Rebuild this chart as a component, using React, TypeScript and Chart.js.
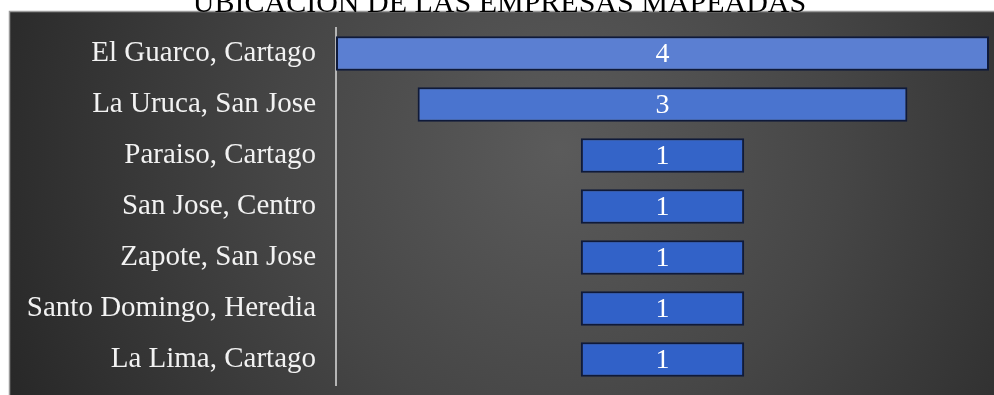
import React, { useEffect, useRef } from "react";
import { Chart, registerables } from "chart.js";

Chart.register(...registerables);

const TITLE = "UBICACIÓN DE LAS EMPRESAS MAPEADAS";
const categories = [
  "El Guarco, Cartago",
  "La Uruca, San Jose",
  "Paraiso, Cartago",
  "San Jose, Centro",
  "Zapote, San Jose",
  "Santo Domingo, Heredia",
  "La Lima, Cartago",
];
const values = [4, 3, 1, 1, 1, 1, 1];
const barColors = ["#5b7fd2", "#4a74cf", "#3464c8", "#3363c8", "#3262c8", "#3161c8", "#3161c8"];

const OFFSET = 17; // canvas is shifted up so the title is clipped like the reference
const W = 994;
const H = 395 + OFFSET;

const backgroundPlugin = {
  id: "bgBox",
  beforeDraw(chart: any) {
    const { ctx, width, height } = chart;
    ctx.save();
    ctx.fillStyle = "#ffffff";
    ctx.fillRect(0, 0, width, height);
    const x0 = 9, y0 = 11 + OFFSET;
    const g = ctx.createRadialGradient(560, 150 + OFFSET, 0, 560, 150 + OFFSET, 620);
    g.addColorStop(0, "#5b5b5b");
    g.addColorStop(0.45, "#464646");
    g.addColorStop(1, "#262626");
    ctx.fillStyle = g;
    ctx.fillRect(x0, y0, width - x0, height - y0);
    ctx.strokeStyle = "#9a9a9a";
    ctx.lineWidth = 1.5;
    ctx.strokeRect(x0 + 0.5, y0 + 0.5, width - x0 + 5, height - y0 + 5);
    ctx.restore();
  },
};

const valueLabelPlugin = {
  id: "valueLabels",
  afterDatasetsDraw(chart: any) {
    const { ctx } = chart;
    const meta = chart.getDatasetMeta(0);
    ctx.save();
    ctx.font = "28px 'Liberation Serif', 'Times New Roman', serif";
    ctx.fillStyle = "#ffffff";
    ctx.textAlign = "center";
    ctx.textBaseline = "middle";
    meta.data.forEach((el: any, i: number) => {
      const cx = (el.x + el.base) / 2;
      ctx.fillText(String(values[i]), cx, el.y + 1);
    });
    ctx.restore();
  },
};

export default function App() {
  const ref = useRef<HTMLCanvasElement>(null);
  useEffect(() => {
    if (!ref.current) return;
    const chart = new Chart(ref.current, {
      type: "bar",
      data: {
        labels: categories,
        datasets: [
          {
            data: values.map((v) => [-v / 2, v / 2]) as any,
            backgroundColor: barColors,
            borderColor: "#0f1a3a",
            borderWidth: 2,
            borderSkipped: false,
            barPercentage: 0.68,
            categoryPercentage: 1,
          },
        ],
      },
      options: {
        indexAxis: "y",
        animation: false,
        responsive: false,
        maintainAspectRatio: false,
        devicePixelRatio: 1,
        layout: { padding: { left: 10, right: 5, top: 0, bottom: 10 } },
        plugins: {
          legend: { display: false },
          tooltip: { enabled: false },
          title: {
            display: true,
            text: TITLE,
            color: "#000000",
            font: { family: "'Liberation Serif', 'Times New Roman', serif", size: 30, weight: "normal" },
            padding: { top: 3, bottom: 6 },
          },
        },
        scales: {
          x: { display: false, min: -2, max: 2 },
          y: {
            afterFit: (s: any) => {
              s.width = 326;
              s.paddingTop = 0;
              s.paddingBottom = 0;
            },
            grid: { display: false, drawTicks: false },
            border: { display: true, color: "#b5b5b5", width: 2 },
            ticks: {
              color: "#f2f2f2",
              padding: 20,
              font: { family: "'Liberation Serif', 'Times New Roman', serif", size: 29 },
            },
          },
        },
      },
      plugins: [backgroundPlugin, valueLabelPlugin],
    });
    return () => chart.destroy();
  }, []);
  return (
    <div style={{ position: "fixed", left: 0, top: -OFFSET, width: W, height: H }}>
      <canvas ref={ref} width={W} height={H} style={{ width: W, height: H, display: "block" }} />
    </div>
  );
}
